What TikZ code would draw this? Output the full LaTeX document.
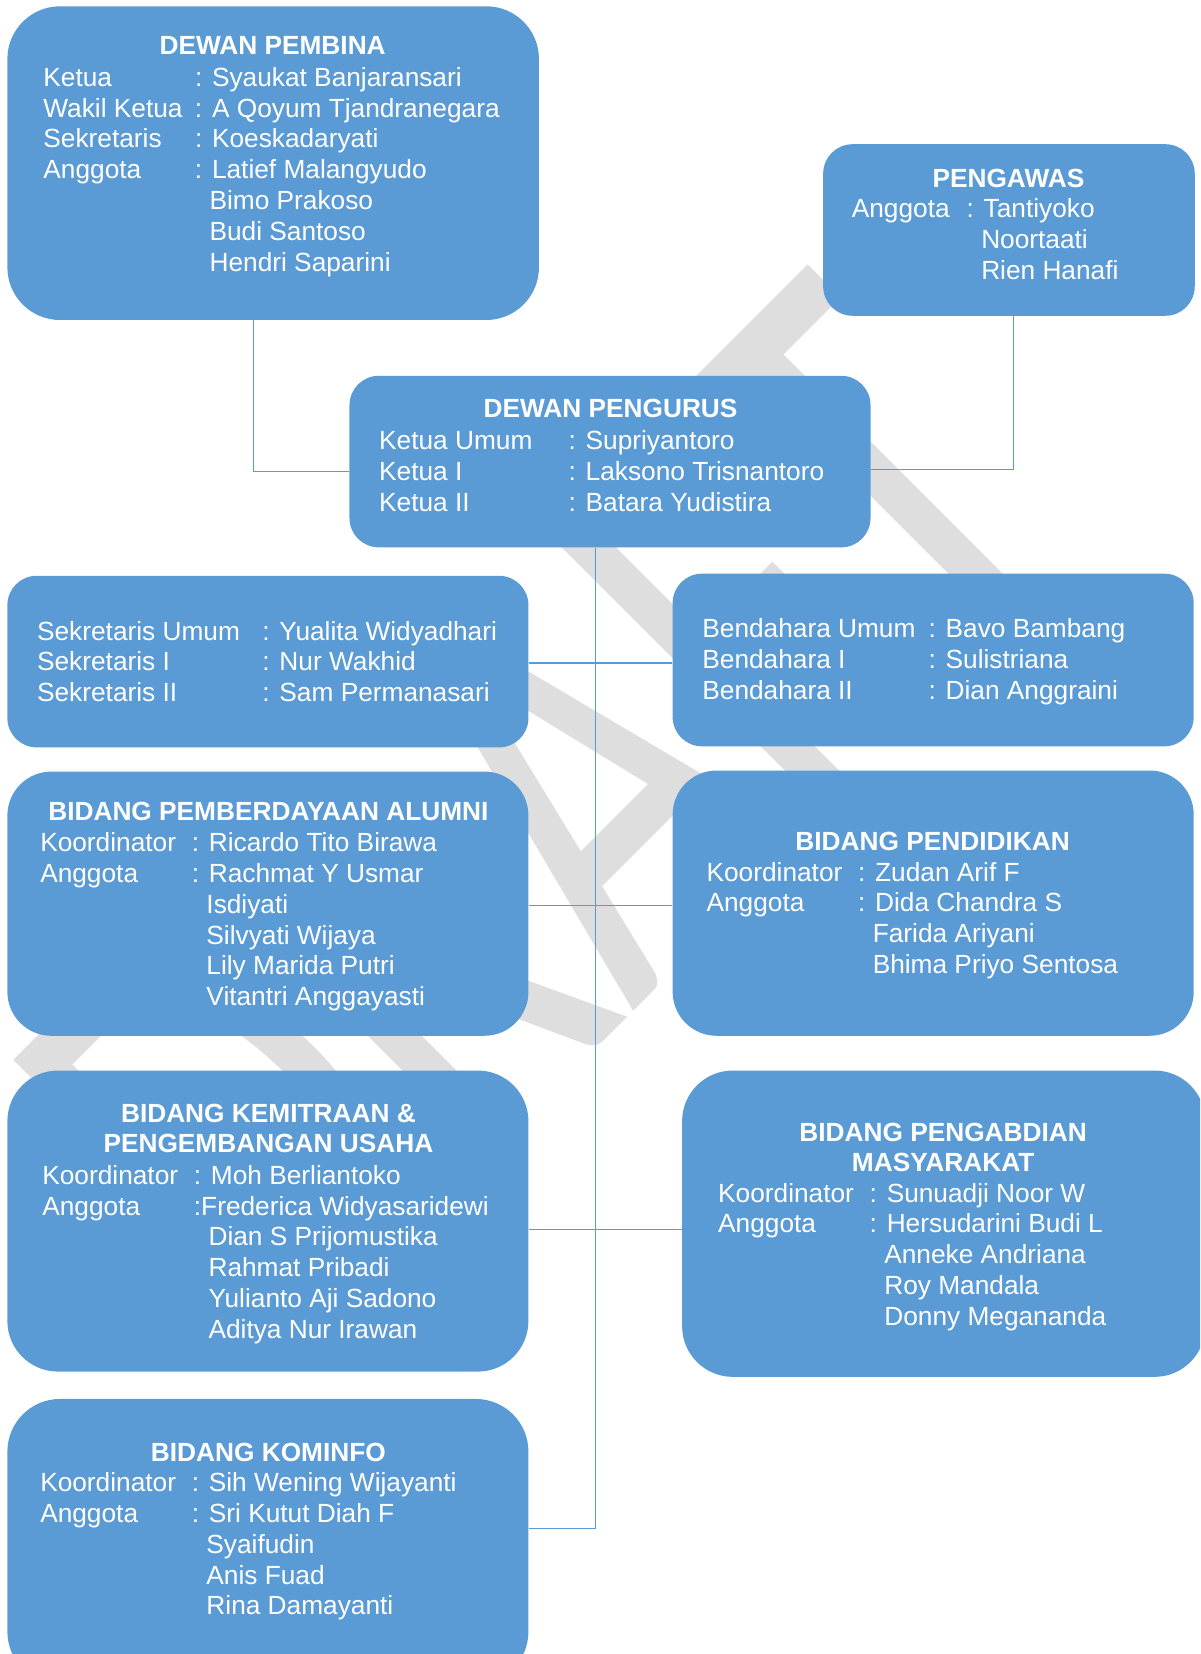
\documentclass[tikz,border=0pt]{standalone}
\usepackage{fontspec}
\setmainfont{Liberation Sans}
\newfontfamily\wmfont{Carlito}
\usetikzlibrary{fit}
\definecolor{boxblue}{HTML}{5B9BD5}
\definecolor{wmgray}{HTML}{DEDEDE}
\newcommand{\nm}[1]{\hphantom{:}\ #1}
\begin{document}
\begin{tikzpicture}[x=0.7895pt, y=-0.7895pt,
  box/.style={fill=boxblue, draw=none, inner sep=0pt},
  txt/.style={text=white, inner sep=0pt, font=\fontsize{19.7pt}{23.13pt}\selectfont},
  ttl/.style={text=white, inner sep=0pt, font=\fontsize{19.7pt}{23.13pt}\selectfont\bfseries},
  conn/.style={draw=boxblue, line width=1pt}]
\useasboundingbox (0,0) rectangle (1140,1571.3);
\clip (0,0) rectangle (1140,1571.3);

% watermark
\node[text=wmgray, inner sep=0pt, anchor=base west, rotate=45, xscale=0.686,
  font=\wmfont\fontsize{472pt}{472pt}\selectfont] (wm) at (264.5,1298) {DRAFT};

% boxes
\node[box, rounded corners=39.5pt, fit={(7,6) (512,304)}] (pembina) {};
\node[box, rounded corners=22pt, fit={(782,137) (1135,300)}] (pengawas) {};
\node[box, rounded corners=22pt, fit={(332,357) (827,520)}] (pengurus) {};
\node[box, rounded corners=22pt, fit={(7,547) (502,710)}] (sekretaris) {};
\node[box, rounded corners=22pt, fit={(639,545) (1134,709)}] (bendahara) {};
\node[box, rounded corners=33pt, fit={(7,733) (502,984)}] (alumni) {};
\node[box, rounded corners=33pt, fit={(639,732) (1134,984)}] (pendidikan) {};
\node[box, rounded corners=38pt, fit={(7,1017) (502,1303)}] (kemitraan) {};
\node[box, rounded corners=38pt, fit={(648,1017) (1145,1308)}] (pengabdian) {};
\node[box, rounded corners=39.5pt, fit={(7,1329) (502,1600)}] (kominfo) {};

% connectors
\coordinate (j1) at (241,448);
\coordinate (j2) at (963,446);
\coordinate (tk) at (566,1452);
\coordinate (h1) at (566,630);
\coordinate (h2) at (566,860);
\coordinate (h3) at (566,1168);
\draw[conn] (pembina.south -| j1) -- (j1) -- (j1 -| pengurus.west);
\draw[conn] (pengawas.south -| j2) -- (j2) -- (j2 -| pengurus.east);
\draw[conn] (pengurus.south -| tk) -- (tk) -- (tk -| kominfo.east);
\draw[conn] (h1 -| sekretaris.east) -- (h1 -| bendahara.west);
\draw[conn] (h2 -| alumni.east) -- (h2 -| pendidikan.west);
\draw[conn] (h3 -| kemitraan.east) -- (h3 -| pengabdian.west);

% texts
\node[ttl, anchor=base] (pembina-title) at (259,52) {DEWAN PEMBINA};
\node[txt, anchor=base west] (pembina-text) at (41,82) {\begin{tabular}[t]{@{}p{113.7pt}@{}l@{}}
Ketua & : Syaukat Banjaransari\\
Wakil Ketua & : A Qoyum Tjandranegara\\
Sekretaris & : Koeskadaryati\\
Anggota & : Latief Malangyudo\\
 & \nm{Bimo Prakoso}\\
 & \nm{Budi Santoso}\\
 & \nm{Hendri Saparini}
\end{tabular}};

\node[ttl, anchor=base] (pengawas-title) at (958,178) {PENGAWAS};
\node[txt, anchor=base west] (pengawas-text) at (809,207) {\begin{tabular}[t]{@{}p{86.1pt}@{}l@{}}
Anggota & : Tantiyoko\\
 & \nm{Noortaati}\\
 & \nm{Rien Hanafi}
\end{tabular}};

\node[ttl, anchor=base] (pengurus-title) at (580,397) {DEWAN PENGURUS};
\node[txt, anchor=base west] (pengurus-text) at (360,427) {\begin{tabular}[t]{@{}p{142.1pt}@{}l@{}}
Ketua Umum & : Supriyantoro\\
Ketua I & : Laksono Trisnantoro\\
Ketua II & : Batara Yudistira
\end{tabular}};

\node[txt, anchor=base west] (sekretaris-text) at (35,608) {\begin{tabular}[t]{@{}p{169pt}@{}l@{}}
Sekretaris Umum & : Yualita Widyadhari\\
Sekretaris I & : Nur Wakhid\\
Sekretaris II & : Sam Permanasari
\end{tabular}};

\node[txt, anchor=base west] (bendahara-text) at (667,606) {\begin{tabular}[t]{@{}p{169.7pt}@{}l@{}}
Bendahara Umum & : Bavo Bambang\\
Bendahara I & : Sulistriana\\
Bendahara II & : Dian Anggraini
\end{tabular}};

\node[ttl, anchor=base] (alumni-title) at (255,779) {BIDANG PEMBERDAYAAN ALUMNI};
\node[txt, anchor=base west] (alumni-text) at (38,809) {\begin{tabular}[t]{@{}p{113.7pt}@{}l@{}}
Koordinator & : Ricardo Tito Birawa\\
Anggota & : Rachmat Y Usmar\\
 & \nm{Isdiyati}\\
 & \nm{Silvyati Wijaya}\\
 & \nm{Lily Marida Putri}\\
 & \nm{Vitantri Anggayasti}
\end{tabular}};

\node[ttl, anchor=base] (pendidikan-title) at (886,808) {BIDANG PENDIDIKAN};
\node[txt, anchor=base west] (pendidikan-text) at (671,837) {\begin{tabular}[t]{@{}p{113.7pt}@{}l@{}}
Koordinator & : Zudan Arif F\\
Anggota & : Dida Chandra S\\
 & \nm{Farida Ariyani}\\
 & \nm{Bhima Priyo Sentosa}
\end{tabular}};

\node[ttl, anchor=base] (kemitraan-title) at (255,1066) {\begin{tabular}[t]{@{}c@{}}BIDANG KEMITRAAN \&\\PENGEMBANGAN USAHA\end{tabular}};
\node[txt, anchor=base west] (kemitraan-text) at (40,1125) {\begin{tabular}[t]{@{}p{113.7pt}@{}l@{}}
Koordinator & : Moh Berliantoko\\
Anggota & :Frederica Widyasaridewi\\
 & \nm{Dian S Prijomustika}\\
 & \nm{Rahmat Pribadi}\\
 & \nm{Yulianto Aji Sadono}\\
 & \nm{Aditya Nur Irawan}
\end{tabular}};

\node[ttl, anchor=base] (pengabdian-title) at (896,1084) {\begin{tabular}[t]{@{}c@{}}BIDANG PENGABDIAN\\MASYARAKAT\end{tabular}};
\node[txt, anchor=base west] (pengabdian-text) at (682,1142) {\begin{tabular}[t]{@{}p{113.7pt}@{}l@{}}
Koordinator & : Sunuadji Noor W\\
Anggota & : Hersudarini Budi L\\
 & \nm{Anneke Andriana}\\
 & \nm{Roy Mandala}\\
 & \nm{Donny Megananda}
\end{tabular}};

\node[ttl, anchor=base] (kominfo-title) at (255,1388) {BIDANG KOMINFO};
\node[txt, anchor=base west] (kominfo-text) at (38,1417) {\begin{tabular}[t]{@{}p{113.7pt}@{}l@{}}
Koordinator & : Sih Wening Wijayanti\\
Anggota & : Sri Kutut Diah F\\
 & \nm{Syaifudin}\\
 & \nm{Anis Fuad}\\
 & \nm{Rina Damayanti}
\end{tabular}};
\end{tikzpicture}
\end{document}
